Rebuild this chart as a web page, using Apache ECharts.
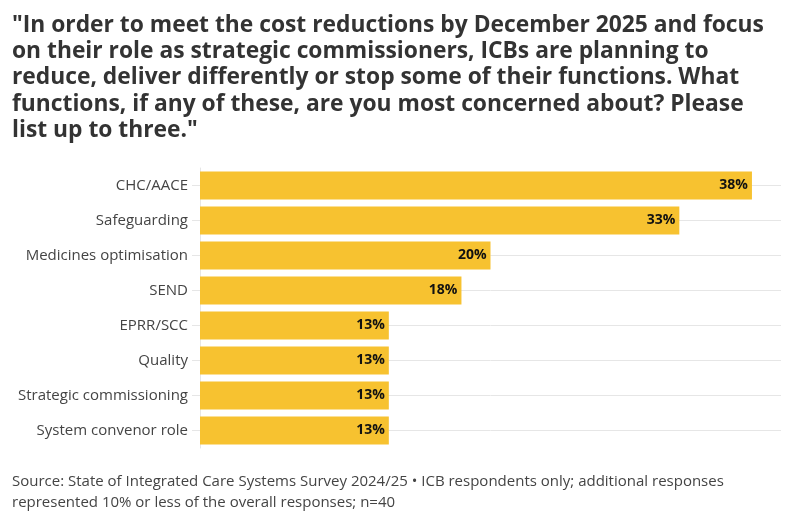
<!DOCTYPE html>
<html>
<head>
<meta charset="utf-8">
<script src="https://cdn.jsdelivr.net/npm/echarts@6/dist/echarts.min.js"></script>
<style>
html,body{margin:0;padding:0;background:#fff;}
#chart{width:795px;height:524px;}
</style>
</head>
<body>
<div id="chart"></div>
<script>
var categories = ['CHC/AACE','Safeguarding','Medicines optimisation','SEND','EPRR/SCC','Quality','Strategic commissioning','System convenor role'];
var values = [38, 33, 20, 18, 13, 13, 13, 13];
var titleText = '"In order to meet the cost reductions by December 2025 and focus\non their role as strategic commissioners, ICBs are planning to\nreduce, deliver differently or stop some of their functions. What\nfunctions, if any of these, are you most concerned about? Please\nlist up to three."';
var sourceText = 'Source: State of Integrated Care Systems Survey 2024/25 \u2022 ICB respondents only; additional responses\nrepresented 10% or less of the overall responses; n=40';

var FONT = "'Open Sans', sans-serif";
var chart = echarts.init(document.getElementById('chart'));
chart.setOption({
  animation: false,
  backgroundColor: '#fff',
  title: [{
    text: titleText,
    left: 12, top: 12, padding: 0,
    textStyle: {fontFamily: FONT, fontSize: 22.8, fontWeight: 'bold', color: '#333', lineHeight: 26.3}
  }, {
    text: sourceText,
    left: 12, top: 471, padding: 0,
    textStyle: {fontFamily: FONT, fontSize: 15, fontWeight: 'normal', color: '#444', lineHeight: 21}
  }],
  grid: {left: 200, right: 14, top: 168, height: 280, containLabel: false},
  xAxis: {
    type: 'value', min: 0, max: 40,
    axisLabel: {show: false}, axisLine: {show: false}, axisTick: {show: false}, splitLine: {show: false}
  },
  yAxis: {
    type: 'category', data: categories, inverse: true,
    axisLine: {show: true, lineStyle: {color: '#e6e6e6'}},
    axisTick: {show: true, alignWithLabel: true, length: 8, lineStyle: {color: '#e6e6e6'}},
    axisLabel: {fontFamily: FONT, fontSize: 15, color: '#444', margin: 12},
    splitLine: {show: false}
  },
  series: [{
    type: 'line', data: [], z: 1, silent: true,
    markLine: {
      z: 1, silent: true, symbol: 'none', animation: false,
      label: {show: false},
      lineStyle: {color: '#e6e6e6', type: 'solid', width: 1},
      data: categories.map(function (c) { return {yAxis: c}; })
    }
  }, {
    type: 'bar', data: values, z: 2,
    barCategoryGap: '20%',
    itemStyle: {color: '#F7C230'},
    label: {
      show: true, position: 'insideRight', distance: 4,
      formatter: '{c}%',
      fontFamily: FONT, fontSize: 14, fontWeight: 'bold', color: '#111'
    }
  }]
});
</script>
</body>
</html>
